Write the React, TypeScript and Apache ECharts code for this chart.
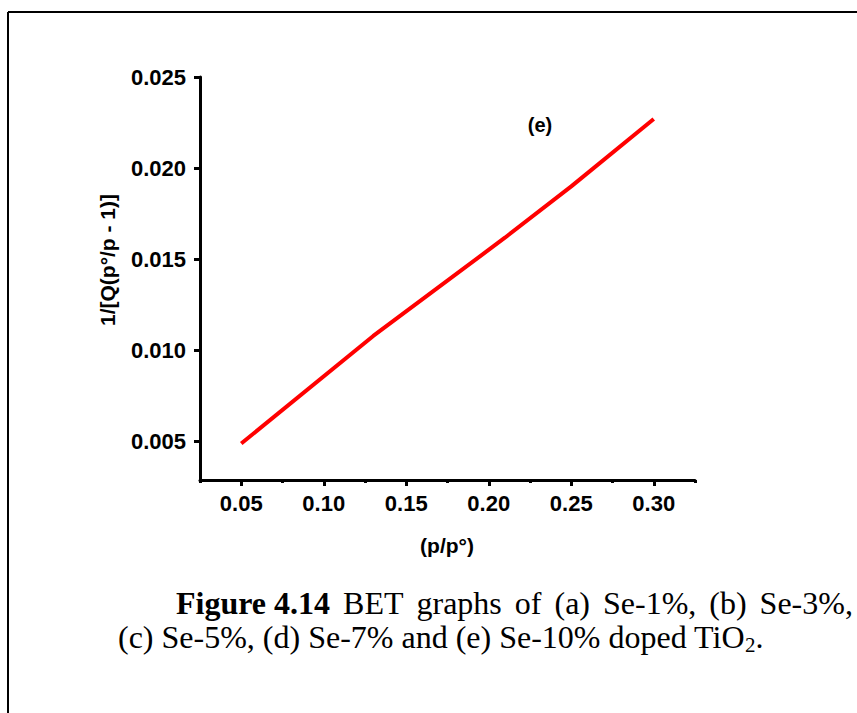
import React, { useEffect, useRef } from "react";
import * as echarts from "echarts";

// BET plot data: relative pressure vs 1/[Q(p°/p - 1)]
const pressureRatio = [0.05, 0.13, 0.21, 0.25, 0.3];
const betValue = [0.0049, 0.0108, 0.0162, 0.019, 0.0227];

const xMajorTicks = [0.05, 0.1, 0.15, 0.2, 0.25, 0.3];
const xMinorTicks = [0.025, 0.075, 0.125, 0.175, 0.225, 0.275, 0.325];
const yTicks = [0.005, 0.01, 0.015, 0.02, 0.025];

const sans = "'Liberation Sans', Arial, Helvetica, sans-serif";
const serif = "'Liberation Serif', 'Times New Roman', Times, serif";

export default function App() {
  const ref = useRef<HTMLDivElement>(null);

  useEffect(() => {
    if (!ref.current) return;
    const chart = echarts.init(ref.current, null, { renderer: "svg" });
    const axisLine = { show: true, lineStyle: { color: "#000", width: 3 } };

    chart.setOption({
      animation: false,
      backgroundColor: "#fff",
      grid: { left: 200, right: 162, top: 77, bottom: 233 },
      xAxis: [
        {
          type: "value",
          min: 0.025,
          max: 0.325,
          axisLine,
          splitLine: { show: false },
          axisTick: {
            show: true,
            length: 6,
            customValues: xMajorTicks,
            lineStyle: { color: "#000", width: 3 },
          },
          axisLabel: {
            customValues: xMajorTicks,
            formatter: (v: number) => v.toFixed(2),
            fontFamily: sans,
            fontWeight: "bold",
            fontSize: 22,
            color: "#000",
            margin: 12,
          },
        },
        {
          type: "value",
          min: 0.025,
          max: 0.325,
          position: "bottom",
          axisLine: { show: false },
          splitLine: { show: false },
          axisTick: {
            show: true,
            length: 3,
            customValues: xMinorTicks,
            lineStyle: { color: "#000", width: 3 },
          },
          axisLabel: { show: false },
        },
      ],
      yAxis: {
        type: "value",
        min: 0.0029,
        max: 0.025,
        axisLine,
        splitLine: { show: false },
        axisTick: {
          show: true,
          length: 6,
          customValues: yTicks,
          lineStyle: { color: "#000", width: 3 },
        },
        axisLabel: {
          customValues: yTicks,
          formatter: (v: number) => v.toFixed(3),
          fontFamily: sans,
          fontWeight: "bold",
          fontSize: 22,
          color: "#000",
          margin: 14,
        },
      },
      series: [
        {
          type: "line",
          xAxisIndex: 0,
          data: pressureRatio.map((p, i) => [p, betValue[i]]),
          showSymbol: false,
          symbol: "none",
          lineStyle: { color: "#ff0000", width: 4 },
        },
      ],
      graphic: [
        // page frame
        {
          type: "line",
          shape: { x1: 8, y1: 12, x2: 857, y2: 12 },
          style: { stroke: "#000", lineWidth: 2 },
        },
        {
          type: "line",
          shape: { x1: 8, y1: 12, x2: 8, y2: 713 },
          style: { stroke: "#000", lineWidth: 2 },
        },
        {
          type: "text",
          x: 540,
          y: 125,
          style: {
            text: "(e)",
            font: `bold 20px ${sans}`,
            fill: "#000",
            align: "center",
            verticalAlign: "middle",
          },
        },
        {
          type: "text",
          x: 107,
          y: 260,
          rotation: Math.PI / 2,
          style: {
            text: "1/[Q(p°/p - 1)]",
            font: `bold 21px ${sans}`,
            fill: "#000",
            align: "center",
            verticalAlign: "middle",
          },
        },
        {
          type: "text",
          x: 447,
          y: 545,
          style: {
            text: "(p/p°)",
            font: `bold 21px ${sans}`,
            fill: "#000",
            align: "center",
            verticalAlign: "middle",
          },
        },
        {
          // first caption line is justified: widened word gaps
          type: "text",
          x: 176,
          y: 603,
          style: {
            text:
              "{b|Figure 4.14}{s| }BET{s| }graphs{s| }of{s| }(a){s| }Se-1%,{s| }(b){s| }Se-3%,",
            fontFamily: serif,
            fontSize: 32,
            fill: "#000",
            verticalAlign: "middle",
            rich: {
              b: { fontFamily: serif, fontSize: 32, fontWeight: "bold" },
              s: { fontFamily: serif, fontSize: 32, width: 13 },
            },
          },
        },
        {
          type: "text",
          x: 118,
          y: 637,
          style: {
            text: "(c) Se-5%, (d) Se-7% and (e) Se-10% doped TiO{sub|2}.",
            fontFamily: serif,
            fontSize: 32,
            fill: "#000",
            verticalAlign: "middle",
            rich: {
              sub: {
                fontFamily: serif,
                fontSize: 21,
                padding: [16, 0, 0, 0],
              },
            },
          },
        },
      ],
    });

    return () => chart.dispose();
  }, []);

  return (
    <div
      ref={ref}
      style={{ position: "fixed", left: 0, top: 0, width: 857, height: 713 }}
    />
  );
}
